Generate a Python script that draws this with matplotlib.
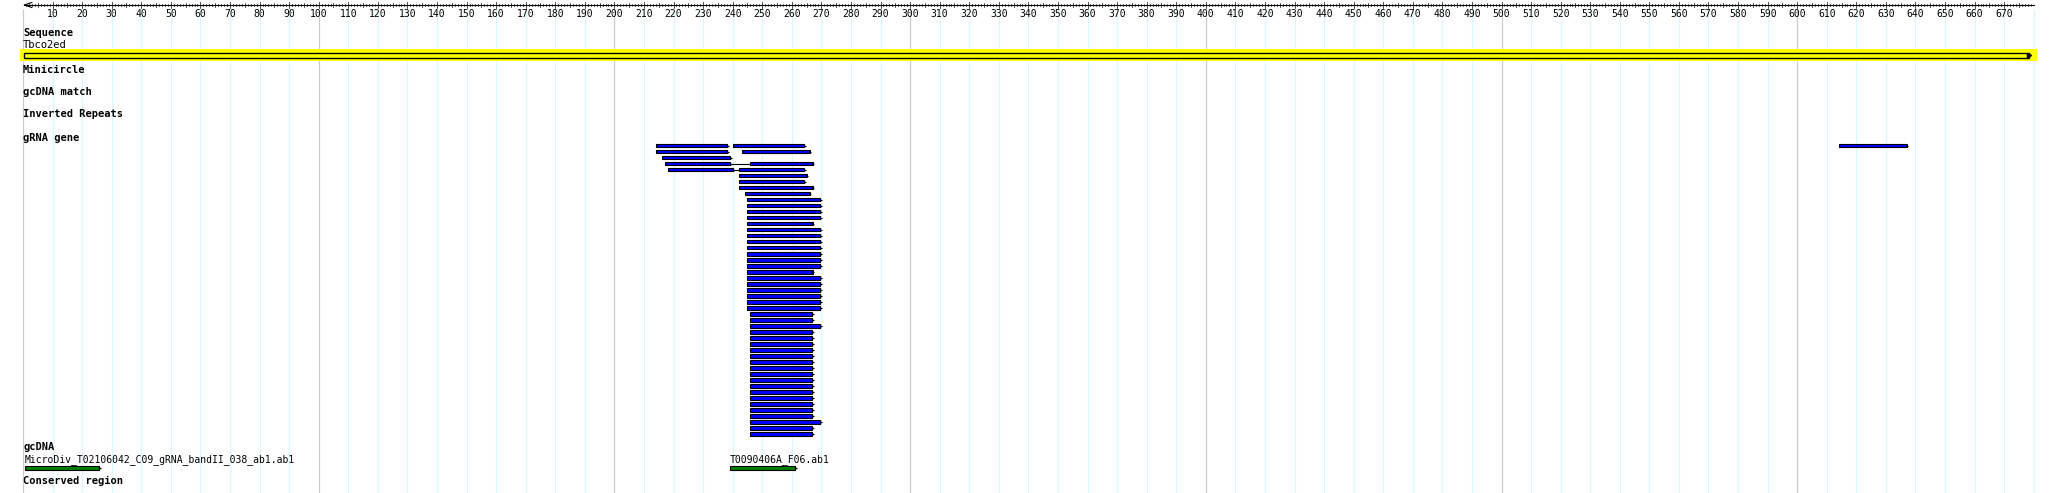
import matplotlib.pyplot as plt
import numpy as np

# sequence length and ruler
seq_len = 680
ruler_labels = list(range(10, 680, 10))

# gRNA gene hits: (row, start, end) in sequence positions
grna_starts = [214, 240, 214, 243, 216, 217, 246, 218, 242, 242, 242, 242, 244]
grna_ends = [238, 264, 238, 266, 239, 239, 267, 240, 264, 265, 264, 267, 266]
grna_rows = [0, 0, 1, 1, 2, 3, 3, 4, 4, 5, 6, 7, 8]
# links between split hits (row, from, to)
links = [(3, 239, 246), (4, 240, 242)]
# the long column of hits, rows 9..48
col_starts = [245] * 19 + [246] * 21
col_ends = [269.5, 269.5, 269.5, 269.5, 267, 269.5, 269.5, 269.5, 269.5, 269.5, 269.5, 269.5, 267,
            269.5, 269.5, 269.5, 269.5, 269.5, 269.5,
            266.7, 266.7, 269.5] + [266.7] * 15 + [269.5, 266.7, 266.7, 269.5][:3]
col_ends = col_ends[:40]
# far hit
far_start, far_end = 614, 637

# gcDNA
gc_names = ["MicroDiv_T02106042_C09_gRNA_bandII_038_ab1.ab1", "T0090406A_F06.ab1"]
gc_starts = [0.7, 239]
gc_ends = [25.7, 261]

track_labels = ["Minicircle", "gcDNA match", "Inverted Repeats", "gRNA gene"]
track_y = [70, 92, 114, 138]

W, H = 2050, 493
px0, ppu = 23, 2.957
fig = plt.figure(figsize=(W / 100, H / 100), dpi=100)
ax = fig.add_axes([0, 0, 1, 1])
ax.set_xlim(-px0 / ppu, (W - px0) / ppu)
ax.set_ylim(H, 0)
ax.axis("off")

mono = "DejaVu Sans Mono"

# grid
for p in range(0, seq_len + 1, 10):
    if p % 100 == 0:
        ax.axvline(p, color="#cccccc", lw=0.9, ymin=0, ymax=1 - 10 / H, zorder=0)
    else:
        ax.axvline(p, color="#d8f8fb", lw=0.8, ymin=0, ymax=1 - 10 / H, zorder=0)

# ruler
ax.plot([0.5, seq_len], [5, 5], color="black", lw=0.8)
ax.plot([0.5, 3], [5, 2.5], color="black", lw=0.8)
ax.plot([0.5, 3], [5, 7.5], color="black", lw=0.8)
for p in range(1, seq_len):
    h = 3 if p % 10 == 0 else (2 if p % 5 == 0 else 1.3)
    ax.plot([p, p], [5 - h, 5 + h], color="black", lw=0.5)
for p in ruler_labels:
    ax.text(p, 14, str(p), ha="center", va="center", fontsize=7, family=mono)

# sequence
ax.text(0, 33, "Sequence", fontsize=7.5, weight="bold", family=mono, va="center")
ax.text(0, 45, "Tbco2ed", fontsize=7.5, family=mono, va="center")
ax.barh(55, seq_len + 2, left=-1, height=12, color="#ffff00", zorder=1)
ax.barh(55, seq_len - 2, left=0.3, height=5, color="#ffff00", edgecolor="black", lw=1, zorder=2)
ax.plot(seq_len - 1.7, 55, marker=">", color="black", ms=3, zorder=3)

for lab, y in zip(track_labels, track_y):
    ax.text(0, y, lab, fontsize=7.5, weight="bold", family=mono, va="center")

row0, dy = 145.7, 6.0


def hit(y, s, e, color="#0000ff"):
    ax.barh(y, e - s, left=s, height=3.6, color=color, edgecolor="black", lw=0.8, zorder=3)
    ax.plot(e + 0.3, y + 0.5, marker=">", color="black", ms=2.2, mew=0, zorder=4)


for r, s, e in zip(grna_rows, grna_starts, grna_ends):
    hit(row0 + r * dy, s, e)
for r, a, b in links:
    ax.plot([a, b], [row0 + r * dy, row0 + r * dy], color="black", lw=0.8, zorder=2)
for i, (s, e) in enumerate(zip(col_starts, col_ends)):
    hit(row0 + (9 + i) * dy, s, e)
hit(row0, far_start, far_end)

# gcDNA
ax.text(0, 446.7, "gcDNA", fontsize=7.5, weight="bold", family=mono, va="center")
for n, s, e in zip(gc_names, gc_starts, gc_ends):
    ax.text(s, 459.3, n, fontsize=7, family=mono, va="center")
    hit(467.7, s, e, color="#008000")
ax.text(0, 481, "Conserved region", fontsize=7.5, weight="bold", family=mono, va="center")

fig.savefig("out.png", dpi=100)
